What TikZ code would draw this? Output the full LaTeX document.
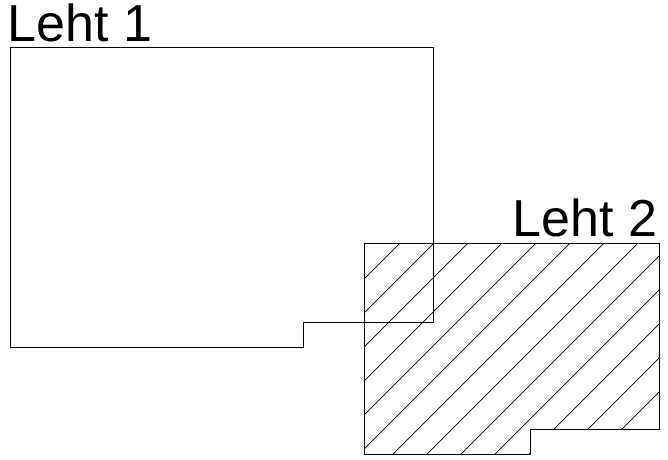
\documentclass[tikz,border=0pt]{standalone}
\usepackage{fontspec}
\setmainfont{Liberation Sans}
\tikzset{
  sheetline/.style={draw=black,line width=1bp,line join=miter},
  hatchline/.style={draw=black,line width=0.7bp},
  sheetlabel/.style={anchor=base west,inner sep=0pt,font=\fontsize{52bp}{52bp}\selectfont}
}
\begin{document}
\begin{tikzpicture}[x=1bp,y=-1bp]
  \useasboundingbox (0,0) rectangle (668,460);
  % sheet 2 with its hatching
  \begin{scope}
    \clip (364,244) -- (659,244) -- (659,429) -- (530,429) -- (530,454) -- (364,454) -- cycle;
    \foreach \k in {0,...,12}
      \draw[hatchline] ({643+34*\k-200},200) -- ({643+34*\k-500},500);
  \end{scope}
  \draw[sheetline] (364,244) -- (659,244) -- (659,429) -- (530,429) -- (530,454) -- (364,454) -- cycle;
  % sheet 1
  \draw[sheetline] (10,48) -- (433,48) -- (433,322) -- (303,322) -- (303,347) -- (10,347) -- cycle;
  \node[sheetlabel] (label1) at (7.5,41.7) {Leht 1};
  \node[sheetlabel] (label2) at (512.5,236.7) {Leht 2};
\end{tikzpicture}
\end{document}
